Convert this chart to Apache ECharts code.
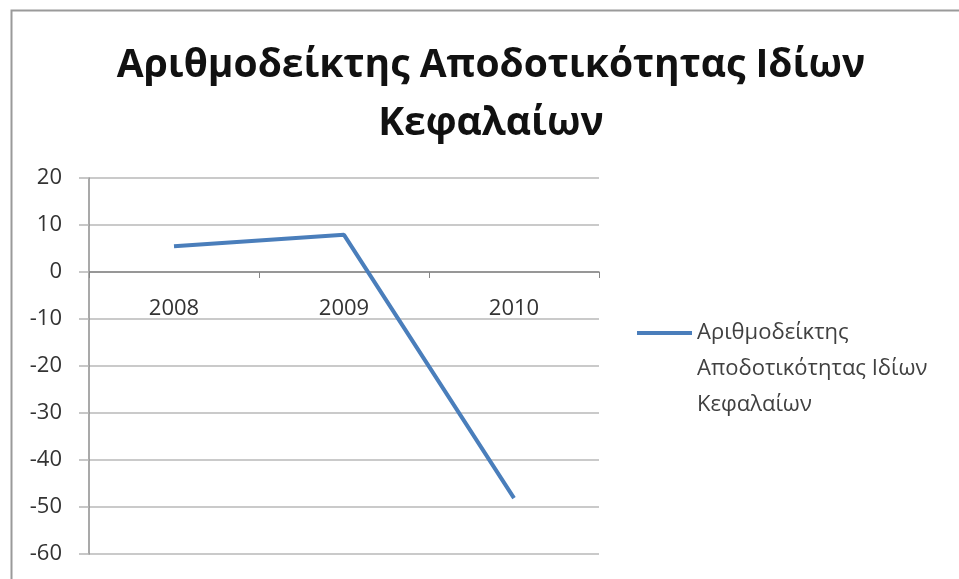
<!DOCTYPE html>
<html>
<head>
<meta charset="utf-8">
<script src="https://cdn.jsdelivr.net/npm/echarts@6/dist/echarts.min.js"></script>
<style>
  html, body { margin: 0; padding: 0; background: #fff; }
  #chart { width: 959px; height: 579px; }
</style>
</head>
<body>
<div id="chart"></div>
<script>
// Return on equity index, yearly values
const titleText = 'Αριθμοδείκτης Αποδοτικότητας Ιδίων\nΚεφαλαίων';
const seriesName = 'Αριθμοδείκτης\nΑποδοτικότητας Ιδίων\nΚεφαλαίων';
const years = ['2008', '2009', '2010'];
const roeValues = [5.5, 7.9, -48.1];
const yTicks = { min: -60, max: 20, interval: 10 };

const font = "'Open Sans', 'Noto Sans', sans-serif";
const W = 959, H = 579;
const grid = { left: 89, right: 360, top: 178, bottom: 25 };

// the category axis crosses the value axis at 0; labels hang just below it
const plotHeight = H - grid.top - grid.bottom;
const zeroOffset = -plotHeight * (0 - yTicks.min) / (yTicks.max - yTicks.min);

const chart = echarts.init(document.getElementById('chart'));

chart.setOption({
  animation: false,
  backgroundColor: '#ffffff',
  graphic: [{
    type: 'rect',
    left: 9, top: 8,
    shape: { width: 1000, height: 600 },
    style: { fill: 'none', stroke: '#9a9a9a', lineWidth: 2 },
    silent: true
  }],
  title: {
    text: titleText,
    left: 486, textAlign: 'center',
    top: 32,
    textStyle: {
      fontFamily: font, fontSize: 39, fontWeight: 'bold',
      color: '#111', lineHeight: 58
    }
  },
  legend: {
    left: 632, top: 238,
    orient: 'vertical',
    icon: 'rect',
    itemWidth: 55, itemHeight: 4,
    itemGap: 0,
    // two blank lines first so the key line sits beside the first text line
    formatter: name => '\n\n' + name,
    textStyle: {
      fontFamily: font, fontSize: 22, color: '#404040', lineHeight: 36
    }
  },
  grid: Object.assign({ outerBoundsMode: 'none' }, grid),
  xAxis: {
    type: 'category',
    data: years,
    boundaryGap: true,
    position: 'bottom',
    offset: zeroOffset,
    axisLine: { onZero: false, lineStyle: { color: '#868686', width: 1.5 } },
    axisTick: { show: true, length: 6, lineStyle: { color: '#868686' } },
    axisLabel: { fontFamily: font, fontSize: 22, color: '#333', margin: 26 }
  },
  yAxis: {
    type: 'value',
    min: yTicks.min, max: yTicks.max, interval: yTicks.interval,
    axisLine: { show: true, lineStyle: { color: '#8c8c8c', width: 1.5 } },
    axisTick: { show: true, length: 10, lineStyle: { color: '#b5b5b5', width: 1.5 } },
    splitLine: { lineStyle: { color: '#b8b8b8', width: 1.5 } },
    axisLabel: { fontFamily: font, fontSize: 22, color: '#333', margin: 27 }
  },
  series: [{
    name: seriesName,
    type: 'line',
    data: roeValues,
    symbol: 'none',
    lineStyle: { color: '#4a7ebb', width: 4 },
    itemStyle: { color: '#4a7ebb' }
  }]
});
</script>
</body>
</html>
